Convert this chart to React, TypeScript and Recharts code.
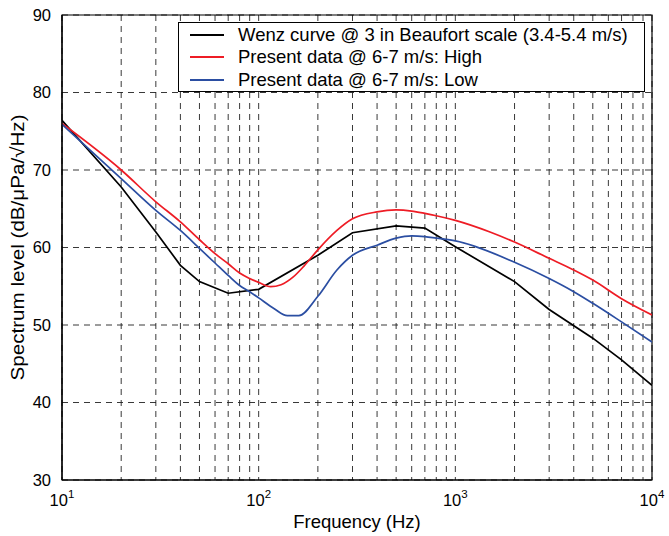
import React from "react";
import {
  LineChart,
  Line,
  XAxis,
  YAxis,
  CartesianGrid,
  Legend,
  ReferenceArea,
} from "recharts";

const FONT = "'Liberation Sans', Arial, Helvetica, sans-serif";

// Wenz curve @ 3 Beaufort
const wenzFreq = [10, 20, 30, 40, 50, 70, 100, 200, 300, 500, 700, 1000, 2000, 3000, 5000, 7000, 10000];
const wenzLevel = [76.4, 67.8, 62.0, 57.7, 55.6, 54.1, 54.6, 59.0, 61.9, 62.8, 62.5, 60.1, 55.6, 52.0, 48.3, 45.5, 42.2];

// Present data @ 6-7 m/s: High
const highFreq = [10, 20, 30, 40, 50, 60, 70, 80, 90, 100, 115, 130, 150, 170, 200, 250, 300, 400, 500, 600, 700, 800, 1000, 1500, 2000, 3000, 4000, 5000, 7000, 10000];
const highLevel = [76.0, 70.0, 65.9, 63.3, 61.0, 59.2, 57.9, 56.7, 56.0, 55.5, 54.95, 55.2, 56.2, 57.6, 59.7, 62.2, 63.7, 64.6, 64.85, 64.7, 64.4, 64.1, 63.5, 62.0, 60.7, 58.6, 57.1, 55.8, 53.4, 51.3];

// Present data @ 6-7 m/s: Low
const lowFreq = [10, 20, 30, 40, 50, 60, 70, 80, 90, 100, 120, 140, 160, 200, 250, 300, 400, 500, 600, 700, 800, 1000, 2000, 3000, 4000, 5000, 7000, 10000];
const lowLevel = [75.9, 68.9, 64.8, 62.2, 59.9, 58.0, 56.4, 55.1, 54.3, 53.5, 52.1, 51.2, 51.2, 53.7, 57.1, 59.0, 60.3, 61.2, 61.5, 61.4, 61.2, 60.85, 58.1, 56.0, 54.3, 52.8, 50.4, 47.8];

const xTicks = [
  10, 20, 30, 40, 50, 60, 70, 80, 90,
  100, 200, 300, 400, 500, 600, 700, 800, 900,
  1000, 2000, 3000, 4000, 5000, 6000, 7000, 8000, 9000, 10000,
];
const xMajor = [10, 100, 1000, 10000];
const yTicks = [30, 40, 50, 60, 70, 80, 90];

const seriesNames = [
  "Wenz curve @ 3 in Beaufort scale (3.4-5.4 m/s)",
  "Present data @ 6-7 m/s: High",
  "Present data @ 6-7 m/s: Low",
];
const seriesColors = ["#000000", "#ee1c25", "#2b4ea2"];

const zip = (f: number[], v: number[]) => f.map((x, i) => ({ f: x, v: v[i] }));
const wenzData = zip(wenzFreq, wenzLevel);
const highData = zip(highFreq, highLevel);
const lowData = zip(lowFreq, lowLevel);

const XTick = (props: any) => {
  const { x, y, payload } = props;
  const val = payload.value;
  if (!xMajor.includes(val)) return null;
  const exp = Math.round(Math.log10(val));
  return (
    <text x={x} y={y + 18} textAnchor="middle" fontSize={16.5} fill="#000" fontFamily={FONT}>
      <tspan>10</tspan>
      <tspan dy={-8} fontSize={11.5}>{exp}</tspan>
    </text>
  );
};

const YLabel = (props: any) => {
  const vb = props.viewBox || { x: 0, y: 15, width: 62, height: 465 };
  const cy = vb.y + vb.height / 2;
  return (
    <text
      x={24}
      y={cy}
      transform={`rotate(-90, 24, ${cy})`}
      textAnchor="middle"
      fontSize={19}
      fill="#000"
      fontFamily={FONT}
      textLength={266}
      lengthAdjust="spacingAndGlyphs"
    >
      Spectrum level (dB/μPa/√Hz)
    </text>
  );
};

const XLabel = (props: any) => {
  const vb = props.viewBox || { x: 62, y: 480, width: 590, height: 56 };
  return (
    <text
      x={vb.x + vb.width / 2}
      y={528}
      textAnchor="middle"
      fontSize={18.5}
      fill="#000"
      fontFamily={FONT}
    >
      Frequency (Hz)
    </text>
  );
};

const LegendBox = () => (
  <div
    style={{
      border: "1px solid #000",
      background: "#fff",
      width: 467,
      height: 70,
      boxSizing: "border-box",
      fontFamily: FONT,
      fontSize: 18.5,
      color: "#000",
      paddingTop: 1,
    }}
  >
    {seriesNames.map((n, i) => (
      <div key={n} style={{ display: "flex", alignItems: "center", height: 22.3 }}>
        <div style={{ width: 34, height: 0, borderTop: `2px solid ${seriesColors[i]}`, marginLeft: 11, marginRight: 14 }} />
        <span style={{ whiteSpace: "nowrap", lineHeight: "22px" }}>{n}</span>
      </div>
    ))}
  </div>
);

export default function App() {
  return (
    <div style={{ position: "absolute", left: 0, top: 0, width: 669, height: 536, background: "#fff" }}>
      <LineChart width={669} height={536} margin={{ top: 15, right: 17, bottom: 0, left: 0 }}>
        <CartesianGrid stroke="#222" strokeDasharray="6 5" strokeWidth={0.9} />
        <XAxis
          dataKey="f"
          type="number"
          scale="log"
          domain={[10, 10000]}
          ticks={xTicks}
          allowDataOverflow
          height={56}
          tick={<XTick />}
          tickLine={false}
          axisLine={{ stroke: "#000", strokeWidth: 1.2 }}
          interval={0}
          label={<XLabel />}
        />
        <YAxis
          type="number"
          domain={[30, 90]}
          ticks={yTicks}
          width={62}
          tickLine={false}
          tickSize={0}
          tickMargin={11}
          tick={{ fontSize: 16.5, fill: "#000", fontFamily: FONT }}
          axisLine={{ stroke: "#000", strokeWidth: 1.2 }}
          interval={0}
          label={<YLabel />}
        />
        <ReferenceArea x1={10} x2={10000} y1={30} y2={90} fill="none" stroke="#000" strokeWidth={1.2} />
        <Line data={wenzData} dataKey="v" name={seriesNames[0]} stroke={seriesColors[0]} strokeWidth={1.7} dot={false} type="linear" isAnimationActive={false} />
        <Line data={highData} dataKey="v" name={seriesNames[1]} stroke={seriesColors[1]} strokeWidth={1.7} dot={false} type="monotone" isAnimationActive={false} />
        <Line data={lowData} dataKey="v" name={seriesNames[2]} stroke={seriesColors[2]} strokeWidth={1.7} dot={false} type="monotone" isAnimationActive={false} />
        <Legend
          layout="vertical"
          align="center"
          verticalAlign="middle"
          content={<LegendBox />}
          wrapperStyle={{ top: 22, left: 178, width: 467, height: 70 }}
        />
      </LineChart>
    </div>
  );
}
